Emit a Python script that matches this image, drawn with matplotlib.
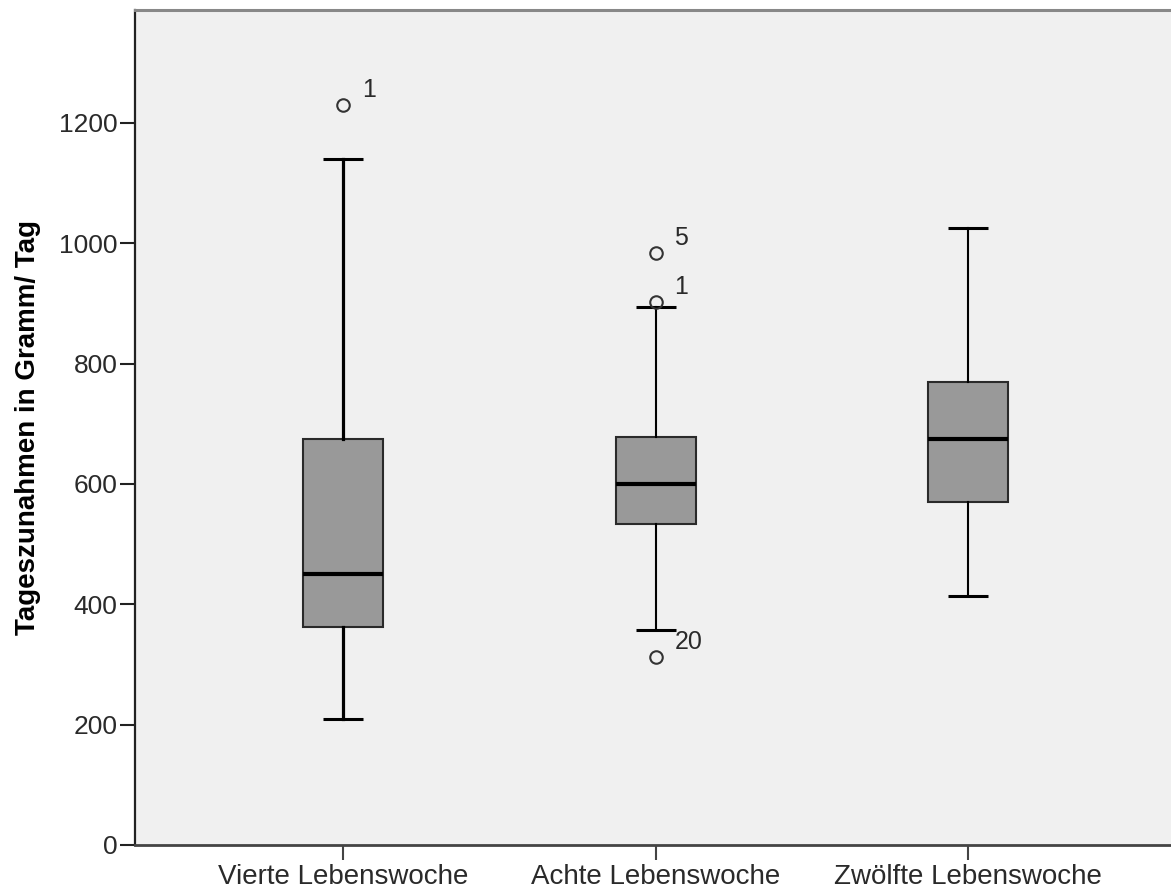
import matplotlib
matplotlib.use('Agg')
import matplotlib.pyplot as plt

categories = ["Vierte Lebenswoche", "Achte Lebenswoche", "Zwölfte Lebenswoche"]
q1 = [362.8, 533.0, 570.6]
med = [450.4, 599.5, 674.2]
q3 = [674.8, 678.6, 769.0]
whislo = [208.9, 356.8, 413.8]
whishi = [1140.6, 894.6, 1025.4]
outliers = [[1229.8], [983.4, 903.0, 312.0], []]
outlier_ids = [["1"], ["5", "1", "20"], []]
yticks = [0, 200, 400, 600, 800, 1000, 1200]

plt.rcParams['font.family'] = ['Liberation Sans', 'DejaVu Sans']

W, H = 1171, 890
fig = plt.figure(figsize=(W / 100, H / 100), dpi=100)
ax = fig.add_axes([135 / W, 45 / H, (1176 - 135) / W, 835 / H])
ax.set_facecolor('#f0f0f0')

stats = []
for i, c in enumerate(categories):
    stats.append(dict(label=c, q1=q1[i], med=med[i], q3=q3[i],
                      whislo=whislo[i], whishi=whishi[i], fliers=outliers[i]))

positions = [1, 2, 3]
res = ax.bxp(stats, positions=positions, widths=0.256, patch_artist=True,
             showfliers=True, capwidths=0.128,
             boxprops=dict(facecolor='#999999', edgecolor='#2a2a2a', linewidth=1.5),
             medianprops=dict(color='black', linewidth=3.0, solid_capstyle='butt'),
             whiskerprops=dict(color='black', linewidth=1.5),
             capprops=dict(color='black', linewidth=2.2, solid_capstyle='butt'),
             flierprops=dict(marker='o', markersize=9, markerfacecolor='none',
                             markeredgecolor='#333333', markeredgewidth=1.5, linestyle='none'))

# first group drawn with heavier whiskers
for w in res['whiskers'][0:2]:
    w.set_linewidth(2.3)

for i, ys in enumerate(outliers):
    for y, lab in zip(ys, outlier_ids[i]):
        ax.annotate(lab, (positions[i], y), xytext=(19, 8), textcoords='offset pixels',
                    ha='left', va='baseline', fontsize=18, color='#2a2a2a')

ax.set_xlim(1 - 208 / 312.5, 3 + 208 / 312.5)
ax.set_ylim(0, 835 / 0.6017)
ax.set_yticks(yticks)
ax.set_yticklabels([str(v) for v in yticks])
ax.set_xticks(positions)
ax.set_xticklabels(categories)

ax.tick_params(axis='y', direction='out', length=11, width=1.5, pad=1.5,
               labelsize=19, labelcolor='#2a2a2a', color='#222222')
ax.tick_params(axis='x', direction='out', length=11, width=1.5, pad=3,
               labelsize=20, labelcolor='#2a2a2a', color='#444444')

ax.spines['left'].set_color('#222222')
ax.spines['left'].set_linewidth(1.6)
ax.spines['bottom'].set_color('#444444')
ax.spines['bottom'].set_linewidth(2.0)
ax.spines['top'].set_color('#888888')
ax.spines['top'].set_linewidth(2.2)
ax.spines['right'].set_visible(False)

ax.set_ylabel('Tageszunahmen in Gramm/ Tag', fontsize=20, fontweight='bold',
              color='black', labelpad=13)

fig.savefig('out.png', dpi=100, facecolor='white')
